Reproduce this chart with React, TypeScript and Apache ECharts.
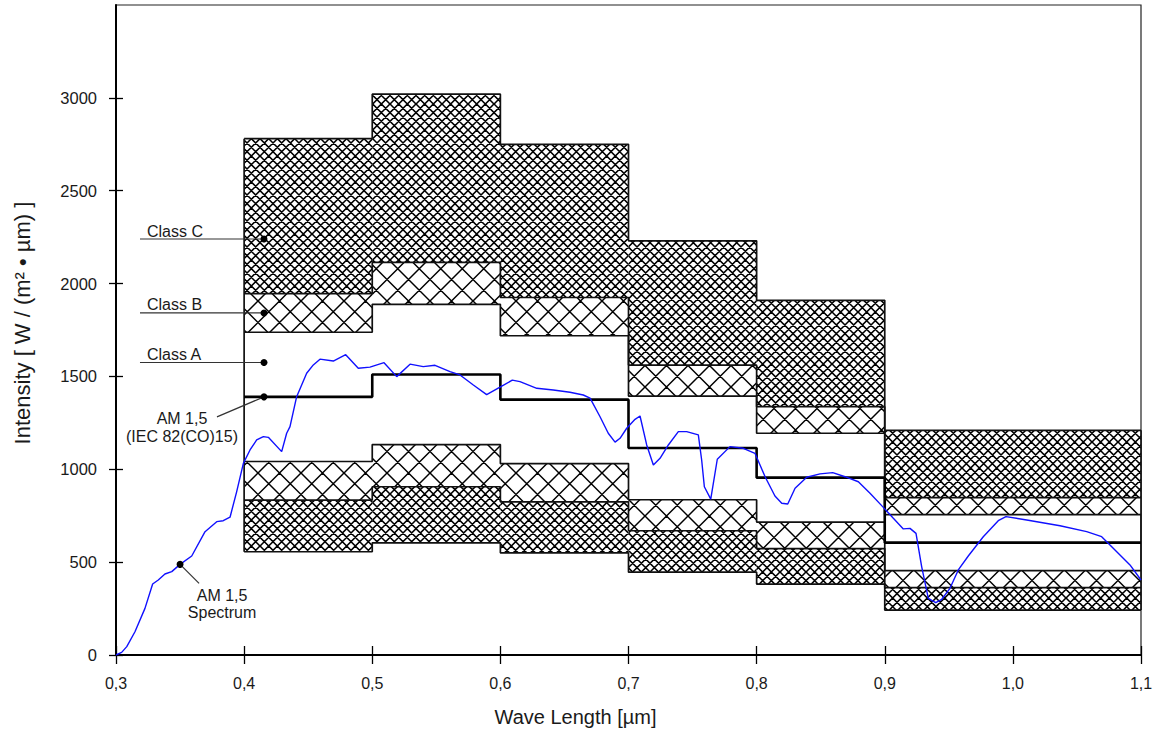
import React, { useEffect, useRef } from "react";
import * as echarts from "echarts";

// ---------- data ----------
const bandStart = [0.4, 0.5, 0.6, 0.7, 0.8, 0.9];
const bandEnd = [0.5, 0.6, 0.7, 0.8, 0.9, 1.1];
const am15Reference = [1390, 1510, 1375, 1115, 955, 605];
const classAUpper = [1738, 1888, 1719, 1394, 1194, 756];
const classALower = [1042, 1133, 1031, 836, 716, 454];
const classBUpper = [1946, 2114, 1925, 1561, 1337, 847];
const classBLower = [834, 906, 825, 669, 573, 363];
const classCUpper = [2780, 3020, 2750, 2230, 1910, 1210];
const classCLower = [556, 604, 550, 446, 382, 242];

const spectrumX = [
  0.3, 0.3044, 0.3084, 0.3148, 0.3226, 0.3286, 0.333, 0.3382, 0.3435, 0.35,
  0.3591, 0.3695, 0.3786, 0.3837, 0.389, 0.3942, 0.3994, 0.4046, 0.4098, 0.415,
  0.4189, 0.4293, 0.4332, 0.4358, 0.441, 0.4488, 0.454, 0.4592, 0.4696, 0.4793,
  0.4891, 0.4982, 0.5092, 0.5191, 0.5295, 0.5398, 0.549, 0.5607, 0.5685, 0.5789,
  0.5893, 0.5997, 0.6093, 0.6153, 0.6284, 0.6413, 0.6543, 0.6647, 0.67, 0.6778,
  0.6842, 0.6895, 0.6934, 0.6986, 0.7051, 0.709, 0.7142, 0.7194, 0.7246, 0.7311,
  0.7389, 0.7454, 0.7545, 0.7571, 0.7592, 0.7642, 0.7693, 0.7792, 0.7896, 0.7987,
  0.8066, 0.8143, 0.8196, 0.8243, 0.83, 0.8391, 0.8495, 0.8594, 0.869, 0.8794,
  0.8885, 0.8989, 0.9067, 0.9145, 0.9197, 0.9244, 0.9288, 0.934, 0.9398, 0.9445,
  0.9509, 0.9574, 0.9652, 0.9769, 0.9886, 0.9946, 1.0108, 1.0368, 1.0576, 1.0693,
  1.0758, 1.0914, 1.1,
];
const spectrumY = [
  0, 14, 45, 125, 251, 382, 404, 436, 449, 488,
  533, 664, 718, 723, 742, 880, 1032, 1104, 1158, 1176,
  1172, 1095, 1194, 1230, 1391, 1517, 1562, 1593, 1583, 1617,
  1544, 1550, 1574, 1499, 1566, 1553, 1560, 1526, 1508, 1454,
  1402, 1442, 1480, 1472, 1436, 1427, 1415, 1400, 1383, 1283,
  1194, 1146, 1167, 1221, 1269, 1287, 1131, 1023, 1059, 1131,
  1203, 1203, 1185, 1050, 906, 839, 1054, 1122, 1113, 1086,
  960, 856, 817, 813, 898, 957, 975, 982, 960, 933,
  871, 795, 736, 679, 682, 655, 476, 305, 282, 300,
  359, 458, 533, 637, 723, 745, 727, 696, 664, 637,
  592, 485, 404,
];

const xMin = 0.3;
const xMax = 1.1;
const xInterval = 0.1;
const yMin = 0;
const yMax = 3500;
const yInterval = 500;
const yTickValues = [0, 500, 1000, 1500, 2000, 2500, 3000];

const annotationText = [
  "Class C",
  "Class B",
  "Class A",
  "AM 1,5\n(IEC 82(CO)15)",
  "AM 1,5\nSpectrum",
];
const annotationX = [0.4155, 0.4155, 0.4155, 0.4155, 0.35];
const annotationY = [2240, 1842, 1575, 1390, 488];

// ---------- styling ----------
const FONT = '"Liberation Sans", Arial, Helvetica, sans-serif';
const TEXT_COLOR = "#1a1a1a";

function makeHatch(tile: number, periods: number, lineWidth: number) {
  const c = document.createElement("canvas");
  c.width = tile;
  c.height = tile;
  const ctx = c.getContext("2d")!;
  ctx.fillStyle = "#ffffff";
  ctx.fillRect(0, 0, tile, tile);
  ctx.strokeStyle = "#000000";
  ctx.lineWidth = lineWidth;
  const p = tile / periods;
  ctx.beginPath();
  for (let k = -periods - 1; k <= 2 * periods + 1; k++) {
    const cc = k * p - tile;
    ctx.moveTo(cc - 2, -2);
    ctx.lineTo(cc + tile + 2, tile + 2);
    const cd = k * p;
    ctx.moveTo(cd + 2, -2);
    ctx.lineTo(cd - tile - 2, tile + 2);
  }
  ctx.stroke();
  return { image: c, repeat: "repeat", imageWidth: tile, imageHeight: tile };
}

const stepData = (arr: number[]) =>
  bandStart.map((x, i) => [x, arr[i]]).concat([[bandEnd[bandEnd.length - 1], arr[arr.length - 1]]]);

export default function App() {
  const ref = useRef<HTMLDivElement>(null);

  useEffect(() => {
    if (!ref.current) return;
    const chart = echarts.init(ref.current, null, { renderer: "svg" });

    const dense = makeHatch(26, 3, 1.55);
    const large = makeHatch(43, 2, 1.45);

    // region rows: [x0, x1, yLow, yHigh, kind]  kind 0 = dense (class C), 1 = large (class B)
    const regions: number[][] = [];
    bandStart.forEach((x0, i) => {
      const x1 = bandEnd[i];
      regions.push([x0, x1, classBUpper[i], classCUpper[i], 0]);
      regions.push([x0, x1, classAUpper[i], classBUpper[i], 1]);
      regions.push([x0, x1, classBLower[i], classALower[i], 1]);
      regions.push([x0, x1, classCLower[i], classBLower[i], 0]);
    });

    const boundaryLines = [classCUpper, classBUpper, classAUpper, classALower, classBLower, classCLower].map(
      (arr) => ({
        type: "line",
        data: stepData(arr),
        step: "end",
        symbol: "none",
        silent: true,
        z: 3,
        lineStyle: { color: "#111", width: 1.7 },
      })
    );

    const edgeLines = [
      [[bandStart[0], classCLower[0]], [bandStart[0], classCUpper[0]]],
      [[bandEnd[5], classCLower[5]], [bandEnd[5], classCUpper[5]]],
    ].map((d) => ({
      type: "line",
      data: d,
      symbol: "none",
      silent: true,
      z: 3,
      lineStyle: { color: "#111", width: 1.7 },
    }));

    const axisLabelFmt = (v: number) => v.toFixed(1).replace(".", ",");

    const option: any = {
      animation: false,
      grid: {
        left: 116,
        right: 18,
        top: 5,
        bottom: 83,
        show: true,
        borderColor: "#222",
        borderWidth: 1.2,
        backgroundColor: "transparent",
      },
      xAxis: [
        {
          type: "value",
          min: xMin,
          max: xMax,
          interval: xInterval,
          name: "Wave Length [µm]",
          nameLocation: "middle",
          nameGap: 52,
          nameTextStyle: {
            fontFamily: FONT,
            fontSize: 20,
            color: TEXT_COLOR,
            verticalAlign: "top",
            padding: [0, 106, 0, 0],
          },
          axisLine: { show: true, onZero: false, lineStyle: { color: "#000", width: 2 } },
          axisTick: { show: true, inside: false, length: 9, lineStyle: { color: "#000", width: 1.3 } },
          axisLabel: {
            formatter: axisLabelFmt,
            margin: 20,
            fontFamily: FONT,
            fontSize: 16,
            color: TEXT_COLOR,
          },
          splitLine: { show: false },
        },
        {
          type: "value",
          min: xMin,
          max: xMax,
          interval: xInterval,
          position: "bottom",
          axisLine: { show: false },
          axisTick: { show: true, inside: true, length: 9, lineStyle: { color: "#000", width: 1.3 } },
          axisLabel: { show: false },
          splitLine: { show: false },
        },
      ],
      yAxis: [
        {
          type: "value",
          min: yMin,
          max: yMax,
          interval: yInterval,
          name: "Intensity [ W / (m² • µm) ]",
          nameLocation: "middle",
          nameRotate: 90,
          nameGap: 83,
          nameTextStyle: { fontFamily: FONT, fontSize: 22, color: TEXT_COLOR, padding: [0, 0, 0, 14] },
          axisLine: { show: true, onZero: false, lineStyle: { color: "#000", width: 2 } },
          axisTick: {
            show: true,
            inside: false,
            length: 7,
            customValues: yTickValues,
            lineStyle: { color: "#000", width: 1.3 },
          },
          axisLabel: {
            customValues: yTickValues,
            formatter: (v: number) => (v > 3000 ? "" : String(v)),
            margin: 19,
            fontFamily: FONT,
            fontSize: 16.5,
            color: TEXT_COLOR,
          },
          splitLine: { show: false },
        },
        {
          type: "value",
          min: yMin,
          max: yMax,
          interval: yInterval,
          position: "left",
          axisLine: { show: false },
          axisTick: {
            show: true,
            inside: true,
            length: 7,
            customValues: yTickValues,
            lineStyle: { color: "#000", width: 1.3 },
          },
          axisLabel: { show: false },
          splitLine: { show: false },
        },
      ],
      series: [
        {
          type: "custom",
          silent: true,
          z: 1,
          data: regions,
          renderItem: (params: any, api: any) => {
            const p0 = api.coord([api.value(0), api.value(3)]);
            const p1 = api.coord([api.value(1), api.value(2)]);
            return {
              type: "rect",
              shape: { x: p0[0], y: p0[1], width: p1[0] - p0[0], height: p1[1] - p0[1] },
              style: { fill: api.value(4) === 0 ? dense : large, stroke: null },
            };
          },
        },
        ...boundaryLines,
        ...edgeLines,
        {
          type: "line",
          data: stepData(am15Reference),
          step: "end",
          symbol: "none",
          silent: true,
          z: 4,
          lineStyle: { color: "#000", width: 2.6 },
        },
        {
          type: "line",
          data: spectrumX.map((x, i) => [x, spectrumY[i]]),
          symbol: "none",
          silent: true,
          z: 5,
          lineStyle: { color: "#1010ff", width: 1.4 },
        },
        {
          type: "custom",
          silent: true,
          z: 6,
          data: annotationX.map((x, i) => [x, annotationY[i], i]),
          renderItem: (params: any, api: any) => {
            const idx = api.value(2);
            const p = api.coord([api.value(0), api.value(1)]);
            const txt = annotationText[idx];
            let line: number[];
            let tx: number, ty: number, align: string, lh: number;
            if (idx <= 2) {
              line = [p[0] - 124, p[1], p[0], p[1]];
              tx = p[0] - 117;
              ty = p[1] - 8;
              align = "left";
              lh = 18;
            } else if (idx === 3) {
              line = [p[0] - 47, p[1] + 20, p[0], p[1]];
              tx = p[0] - 82;
              ty = p[1] + 31;
              align = "center";
              lh = 18;
            } else {
              line = [p[0], p[1], p[0] + 19, p[1] + 19];
              tx = p[0] + 42;
              ty = p[1] + 40;
              align = "center";
              lh = 17;
            }
            return {
              type: "group",
              children: [
                {
                  type: "line",
                  shape: { x1: line[0], y1: line[1], x2: line[2], y2: line[3] },
                  style: { stroke: "#333", lineWidth: 1.2 },
                },
                {
                  type: "circle",
                  shape: { cx: p[0], cy: p[1], r: 3.5 },
                  style: { fill: "#000" },
                },
                {
                  type: "text",
                  style: {
                    text: txt,
                    x: tx,
                    y: ty,
                    fill: TEXT_COLOR,
                    fontFamily: FONT,
                    fontSize: 16,
                    align: align,
                    verticalAlign: "middle",
                    lineHeight: lh,
                  },
                },
              ],
            };
          },
        },
      ],
    };

    chart.setOption(option);
    return () => chart.dispose();
  }, []);

  return (
    <div
      ref={ref}
      style={{ position: "absolute", left: 0, top: 0, width: 1159, height: 738, background: "#fff" }}
    />
  );
}
